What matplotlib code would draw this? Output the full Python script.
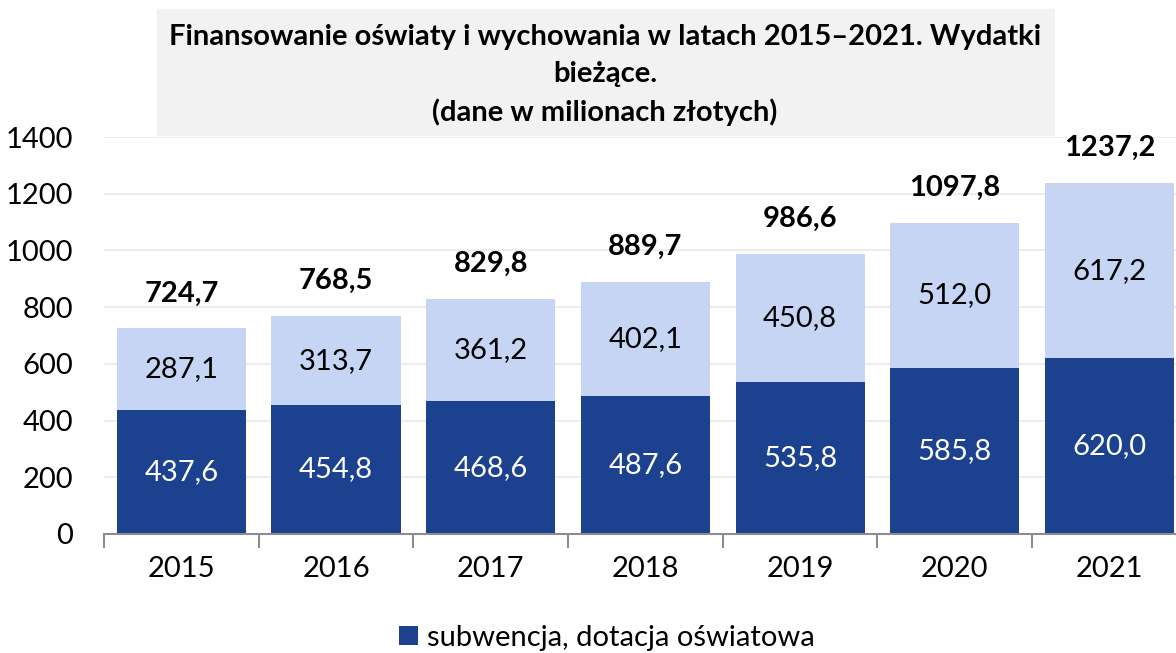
import numpy as np
import matplotlib

matplotlib.use("Agg")
import matplotlib.pyplot as plt
from matplotlib.patches import Rectangle

plt.rcParams["font.family"] = ["Lato", "DejaVu Sans"]

YEARS = ["2015", "2016", "2017", "2018", "2019", "2020", "2021"]
SUBWENCJA = [437.6, 454.8, 468.6, 487.6, 535.8, 585.8, 620.0]
INNE = [287.1, 313.7, 361.2, 402.1, 450.8, 512.0, 617.2]
TOTAL = [724.7, 768.5, 829.8, 889.7, 986.6, 1097.8, 1237.2]

DARK = "#1B418F"
LIGHT = "#C5D5F3"
FS = 21


def fmt(v):
    return f"{v:.1f}".replace(".", ",")


fig = plt.figure(figsize=(11.76, 6.53), dpi=100)
# axes runs past the right edge of the figure, like the source
ax = fig.add_axes([104 / 1176, 119 / 653, 7 * 154.7 / 1176, 397 / 653])

x = np.arange(len(YEARS))
w = 0.835
b1 = ax.bar(x, SUBWENCJA, w, color=DARK, label="subwencja, dotacja oświatowa", zorder=2)
b2 = ax.bar(x, INNE, w, bottom=SUBWENCJA, color=LIGHT, label="pozostałe", zorder=2)

for i in x:
    ax.text(i, SUBWENCJA[i] / 2, fmt(SUBWENCJA[i]), ha="center", va="center",
            color="white", fontsize=FS)
    ax.text(i, SUBWENCJA[i] + INNE[i] / 2, fmt(INNE[i]), ha="center", va="center",
            color="black", fontsize=FS)
    ax.annotate(fmt(TOTAL[i]), (i, TOTAL[i]), xytext=(0, 35), textcoords="offset pixels",
                ha="center", va="center", fontsize=FS, fontweight="bold")

ax.set_xlim(-0.5, len(YEARS) - 0.5)
ax.set_ylim(0, 1400)
ax.set_yticks(np.arange(0, 1401, 200))
ax.yaxis.grid(True, color="#EDEDED", lw=1.5, zorder=0)
ax.tick_params(axis="y", length=0, labelsize=FS, pad=22)
ax.set_xticks(x)
ax.set_xticklabels(YEARS)
ax.set_xticks(np.arange(-0.5, len(YEARS), 1), minor=True)
ax.tick_params(axis="x", which="major", length=0, labelsize=FS, pad=16)
ax.tick_params(axis="x", which="minor", length=10, color="#8C8C8C", width=1.5)
for s in ["top", "right", "left"]:
    ax.spines[s].set_visible(False)
ax.spines["bottom"].set_color("#8C8C8C")
ax.spines["bottom"].set_linewidth(1.5)

# title box
fig.patches.append(Rectangle((157 / 1176, 1 - 135 / 653), (1054 - 157) / 1176, 126 / 653,
                             transform=fig.transFigure, color="#F2F2F2", zorder=0))
fig.text(605 / 1176, 1 - 75 / 653,
         "Finansowanie oświaty i wychowania w latach 2015–2021. Wydatki\nbieżące.\n(dane w milionach złotych)",
         ha="center", va="center", fontsize=FS, fontweight="bold", linespacing=1.5)

fig.legend(handles=[b1], loc="center", bbox_to_anchor=(607 / 1176, 1 - 638 / 653),
           frameon=False, fontsize=FS, handlelength=0.65, handleheight=0.65,
           handletextpad=0.3)

fig.savefig("out.png", dpi=100)
